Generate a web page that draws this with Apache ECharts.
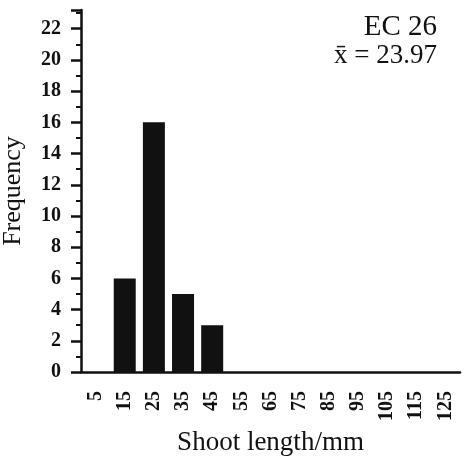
<!DOCTYPE html>
<html>
<head>
<meta charset="utf-8">
<script src="https://cdn.jsdelivr.net/npm/echarts@6/dist/echarts.min.js"></script>
<style>
  html, body { margin: 0; padding: 0; background: #fff; }
  #chart { width: 464px; height: 461px; }
</style>
</head>
<body>
<div id="chart"></div>
<script>
// Shoot length classes (mm, class midpoints) and their frequencies
const lengthClasses = ['5', '15', '25', '35', '45', '55', '65', '75', '85', '95', '105', '115', '125'];
const frequencies = [0, 6, 16, 5, 3, 0, 0, 0, 0, 0, 0, 0, 0];
const sampleName = 'EC 26';
const sampleMean = '23.97';

const serif = '"Liberation Serif", "DejaVu Serif", serif';
const ink = '#111';
const chart = echarts.init(document.getElementById('chart'));

chart.setOption({
  animation: false,
  backgroundColor: '#fff',
  grid: { left: 81, right: 4, top: 10, bottom: 89, outerBoundsMode: 'none', containLabel: false },
  xAxis: {
    type: 'category',
    data: lengthClasses,
    boundaryGap: true,
    name: 'Shoot length/mm',
    nameLocation: 'middle',
    nameGap: 57,
    nameTextStyle: { fontFamily: serif, fontSize: 27, color: ink },
    axisLine: { lineStyle: { color: ink, width: 2.5 } },
    axisTick: { alignWithLabel: true, length: 11, lineStyle: { color: ink, width: 2.5 } },
    axisLabel: { rotate: 90, margin: 19, fontFamily: serif, fontSize: 20, fontWeight: 'bold', color: ink, interval: 0 }
  },
  yAxis: {
    type: 'value',
    min: 0,
    max: 23.2,
    interval: 2,
    name: 'Frequency',
    nameLocation: 'middle',
    nameGap: 55,
    nameTextStyle: { fontFamily: serif, fontSize: 26, color: ink },
    axisLine: { show: true, lineStyle: { color: ink, width: 2.5 } },
    axisTick: { show: true, length: 10, lineStyle: { color: ink, width: 2.5 } },
    minorTick: { show: true, splitNumber: 2, length: 5, lineStyle: { color: ink, width: 2 } },
    splitLine: { show: false },
    axisLabel: { margin: 20, fontFamily: serif, fontSize: 20, fontWeight: 'bold', color: ink, showMaxLabel: false }
  },
  series: [{
    type: 'bar',
    data: frequencies,
    barWidth: 22,
    itemStyle: { color: ink }
  }],
  graphic: [
    {
      type: 'text', right: 27, top: 13,
      style: { text: sampleName, font: '29px ' + serif, fill: ink, textAlign: 'right' }
    },
    {
      type: 'text', right: 27, top: 42,
      style: { text: 'x\u0304 = ' + sampleMean, font: '27px ' + serif, fill: ink, textAlign: 'right' }
    }
  ]
});
</script>
</body>
</html>
